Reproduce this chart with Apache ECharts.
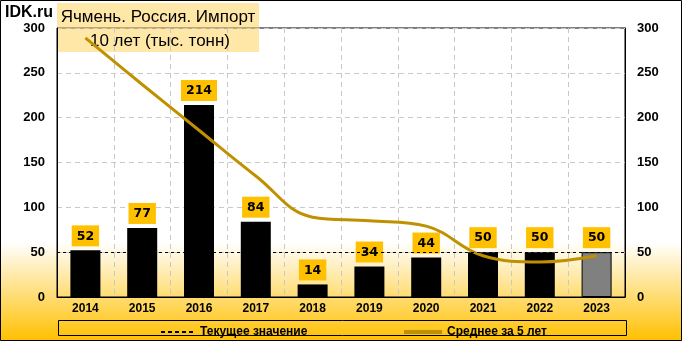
<!DOCTYPE html>
<html>
<head>
<meta charset="utf-8">
<script src="https://cdn.jsdelivr.net/npm/echarts@6/dist/echarts.min.js"></script>
<style>
  html, body { margin: 0; padding: 0; background: #fff; }
  #chart { width: 682px; height: 341px; }
</style>
</head>
<body>
<div id="chart"></div>
<script>
// Barley imports to Russia, thousand tonnes
const years = ['2014', '2015', '2016', '2017', '2018', '2019', '2020', '2021', '2022', '2023'];
const imports = [52, 77, 214, 84, 14, 34, 44, 50, 50, 50];
const avg5y = [289, 237, 186, 135, 89, 85, 79, 46, 39, 46];
const axisTicks = [0, 50, 100, 150, 200, 250, 300];

const titleLine1 = 'Ячмень. Россия. Импорт';
const titleLine2 = '10 лет (тыс. тонн)';
const currentName = 'Текущее значение';
const avgName = 'Среднее за 5 лет';

const currentValue = imports[imports.length - 1];
const lastIdx = imports.length - 1;

const chart = echarts.init(document.getElementById('chart'), null, { renderer: 'canvas' });

const barData = imports.map((v, i) => i === lastIdx
  ? { value: v, itemStyle: { color: '#808080', borderColor: '#000', borderWidth: 1 } }
  : v);

const yAxisCommon = {
  type: 'value',
  min: axisTicks[0],
  max: axisTicks[axisTicks.length - 1],
  interval: axisTicks[1] - axisTicks[0],
  axisLine: { show: true, lineStyle: { color: '#000', width: 1 } },
  axisTick: { show: false },
  axisLabel: {
    margin: 12,
    color: '#000',
    fontFamily: 'Liberation Sans',
    fontWeight: 'bold',
    fontSize: 13
  }
};

const legendText = { color: '#000', fontFamily: 'Liberation Sans', fontWeight: 'bold', fontSize: 12 };
const hiddenSymbol = { color: 'rgba(0,0,0,0)', borderWidth: 0 };

chart.setOption({
  animation: false,
  graphic: [
    {
      type: 'rect', z: -10, silent: true,
      shape: { x: 0, y: 0, width: 682, height: 341 },
      style: {
        fill: new echarts.graphic.LinearGradient(0, 0, 0, 1, [
          { offset: 0, color: '#ffffff' },
          { offset: 0.71, color: '#ffffff' },
          { offset: 1, color: '#ffc000' }
        ])
      }
    },
    {
      type: 'rect', z: 100, silent: true,
      shape: { x: 0.5, y: 0.5, width: 681, height: 340 },
      style: { fill: 'none', stroke: '#000', lineWidth: 1 }
    },
    {
      type: 'rect', z: 0, silent: true,
      shape: { x: 57, y: 3, width: 202, height: 49 },
      style: { fill: 'rgba(255,208,80,0.5)' }
    },
    {
      type: 'text', z: 1, silent: true,
      style: {
        x: 158, y: 17, text: titleLine1, align: 'center', verticalAlign: 'middle',
        fill: '#000', font: '17px "Liberation Sans"'
      }
    },
    {
      type: 'text', z: 1, silent: true,
      style: {
        x: 160, y: 41, text: titleLine2, align: 'center', verticalAlign: 'middle',
        fill: '#000', font: '17px "Liberation Sans"'
      }
    },
    {
      type: 'text', z: 1, silent: true,
      style: {
        x: 5, y: 13, text: 'IDK.ru', align: 'left', verticalAlign: 'middle',
        fill: '#000', font: 'bold 16px "Liberation Sans"'
      }
    },
    {
      type: 'rect', z: 1, silent: true,
      shape: { x: 58.5, y: 320.5, width: 568, height: 15 },
      style: { fill: 'none', stroke: '#000', lineWidth: 1 }
    }
  ],
  grid: {
    left: 57, right: 57, top: 28, bottom: 44,
    show: true, borderColor: '#000', borderWidth: 1, backgroundColor: 'transparent'
  },
  legend: [
    {
      data: [currentName],
      left: 155, top: 321,
      itemWidth: 34, itemHeight: 12, itemGap: 5,
      itemStyle: hiddenSymbol,
      textStyle: legendText
    },
    {
      data: [avgName],
      left: 397, top: 321,
      itemWidth: 38, itemHeight: 12,
      itemStyle: hiddenSymbol,
      lineStyle: { width: 4 },
      textStyle: legendText
    }
  ],
  xAxis: {
    type: 'category',
    data: years,
    axisLine: { show: true, lineStyle: { color: '#000', width: 1 } },
    axisTick: { show: false },
    splitLine: { show: true, lineStyle: { color: '#c8c8c8', type: [5, 4], width: 1 } },
    axisLabel: {
      margin: 6,
      color: '#000',
      fontFamily: 'Liberation Sans',
      fontWeight: 'bold',
      fontSize: 12
    }
  },
  yAxis: [
    Object.assign({}, yAxisCommon, {
      position: 'left',
      splitLine: { show: true, lineStyle: { color: '#c8c8c8', type: [5, 4], width: 1 } }
    }),
    Object.assign({}, yAxisCommon, {
      position: 'right',
      splitLine: { show: false }
    })
  ],
  series: [
    {
      name: 'Импорт',
      type: 'bar',
      data: barData,
      barWidth: 30,
      itemStyle: { color: '#000' },
      label: {
        show: true,
        position: 'top',
        distance: 4,
        color: '#000',
        fontFamily: 'DejaVu Sans',
        fontWeight: 'bold',
        fontSize: 12.5,
        lineHeight: 14,
        backgroundColor: '#ffc000',
        padding: [4, 5, 3, 5]
      },
      z: 2
    },
    {
      name: currentName,
      type: 'line',
      data: [],
      symbol: 'none',
      lineStyle: { color: '#000', type: [4, 3], width: 1 },
      itemStyle: { color: '#000' },
      markLine: {
        silent: true,
        symbol: 'none',
        label: { show: false },
        lineStyle: { color: '#000', type: [3, 3], width: 1 },
        data: [{ yAxis: currentValue }]
      },
      z: 3
    },
    {
      name: avgName,
      type: 'line',
      data: avg5y,
      smooth: 0.4,
      symbol: 'none',
      lineStyle: { color: '#bf9000', width: 3 },
      itemStyle: { color: '#bf9000' },
      z: 4
    }
  ]
});
</script>
</body>
</html>
